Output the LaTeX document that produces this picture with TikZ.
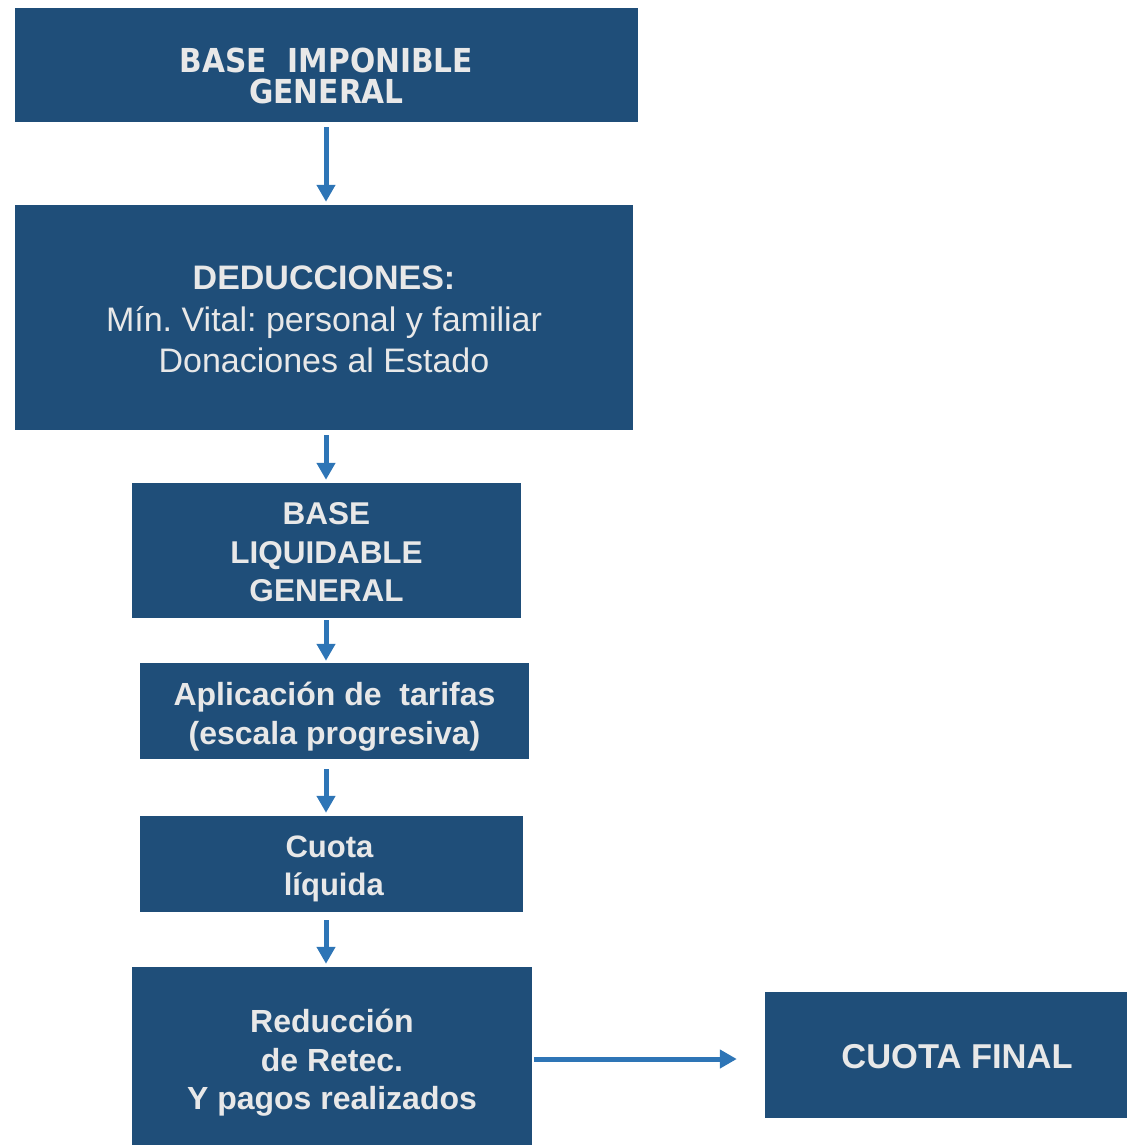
\documentclass[tikz,border=0pt]{standalone}
\usepackage{fontspec}
\setmainfont{Liberation Sans}
\newfontfamily\condfont{DejaVu Sans Condensed}
\usetikzlibrary{arrows.meta}
\definecolor{boxblue}{HTML}{1F4E79}
\definecolor{arrblue}{HTML}{2E75B6}
\definecolor{txt}{HTML}{E8E8E8}
\frenchspacing
\begin{document}
\begin{tikzpicture}[x=1pt,y=-1pt,
  box/.style={fill=boxblue, draw=none, inner sep=0pt},
  lbl/.style={text=txt, align=center, inner sep=0pt},
  conn/.style={draw=arrblue, line width=5pt, -{Triangle[width=18pt,length=17pt]}, shorten <=5pt, shorten >=3pt}]
\useasboundingbox (0,0) rectangle (1128,1145);
% boxes
\node[box, minimum width=623pt, minimum height=114pt] (b1) at (326.5,65) {};
\node[box, minimum width=618pt, minimum height=225pt] (b2) at (324,317.5) {};
\node[box, minimum width=389pt, minimum height=135pt] (b3) at (326.5,550.5) {};
\node[box, minimum width=389pt, minimum height=96pt] (b4) at (334.5,711) {};
\node[box, minimum width=383pt, minimum height=96pt] (b5) at (331.5,864) {};
\node[box, minimum width=400pt, minimum height=178pt] (b6) at (332,1056) {};
\node[box, minimum width=362pt, minimum height=126pt] (b7) at (946,1055) {};
% texts
\node[lbl, font=\condfont\bfseries\fontsize{33}{31}\selectfont] (t1) at ([yshift=-11pt]b1) {BASE\ \ IMPONIBLE\\GENERAL};
\node[lbl, font=\fontsize{34}{41.5}\selectfont] (t2) at ([yshift=-2pt]b2)
  {{\bfseries DEDUCCIONES:}\\Mín. Vital: personal y familiar\\Donaciones al Estado};
\node[lbl, font=\bfseries\fontsize{31.5}{38.5}\selectfont] (t3) at ([yshift=-2pt]b3) {BASE\\LIQUIDABLE\\GENERAL};
\node[lbl, font=\bfseries\fontsize{32}{39}\selectfont] (t4) at ([yshift=-6pt]b4) {Aplicación de\ \ tarifas\\(escala progresiva)};
\node[lbl, font=\bfseries\fontsize{31}{38}\selectfont] (t5) at ([xshift=-2pt,yshift=-5pt]b5) {Cuota\\\ líquida};
\node[lbl, font=\bfseries\fontsize{32}{38.5}\selectfont] (t6) at ([yshift=-7pt]b6) {Reducción\\de Retec.\\Y pagos realizados};
\node[lbl, font=\bfseries\fontsize{34.5}{38}\selectfont] (t7) at ([xshift=11pt,yshift=-2pt]b7) {CUOTA FINAL};
% connectors
\draw[conn] (b1.south -| 326,0) -- (b2.north -| 326,0);
\draw[conn] (b2.south -| 326,0) -- (b3.north -| 326,0);
\draw[conn, shorten <=2pt, shorten >=2pt] (b3.south -| 326,0) -- (b4.north -| 326,0);
\draw[conn, shorten <=10pt] (b4.south -| 326,0) -- (b5.north -| 326,0);
\draw[conn, shorten <=8pt] (b5.south -| 326,0) -- (b6.north -| 326,0);
\draw[conn, shorten <=2pt, shorten >=28pt] (b6.east |- 0,1059) -- (b7.west |- 0,1059);
\end{tikzpicture}
\end{document}
